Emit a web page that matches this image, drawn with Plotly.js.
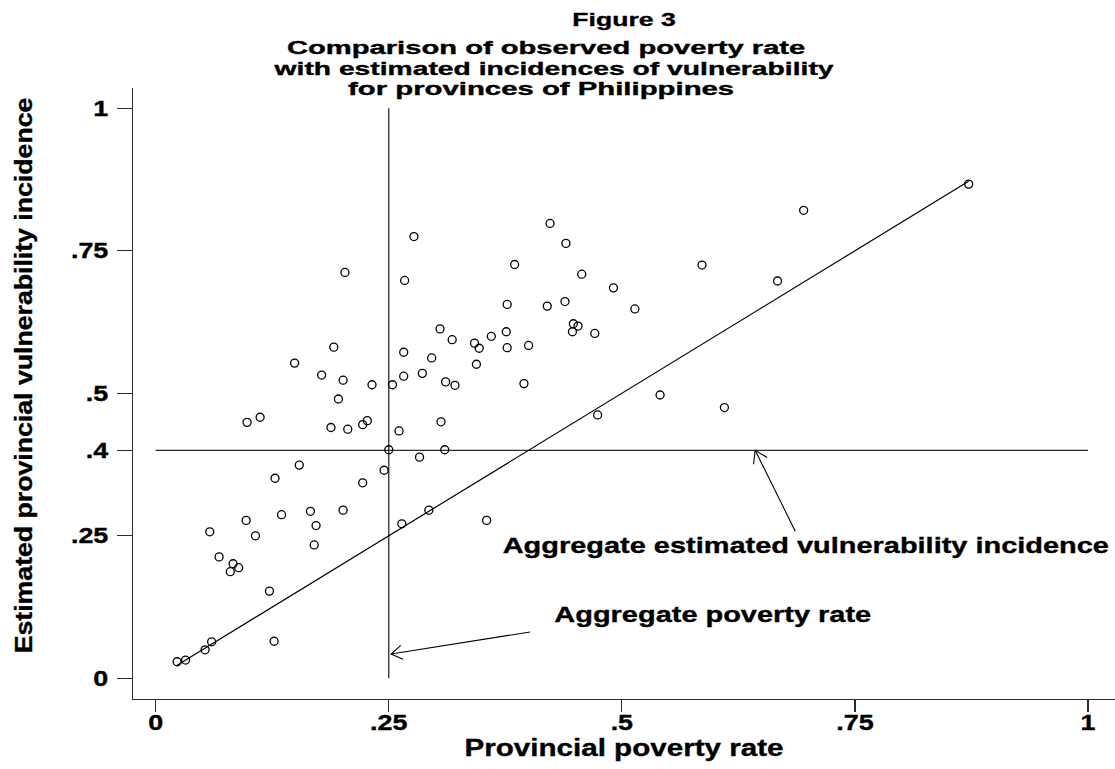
<!DOCTYPE html>
<html>
<head>
<meta charset="utf-8">
<script src="https://cdn.plot.ly/plotly-3.0.1.min.js"></script>
<style>
html,body{margin:0;padding:0;background:#fff}
/* slightly heavier strokes on all chart lettering */
#chart text{stroke:#000;stroke-width:0.35px}
</style>
</head>
<body>
<div id="chart" style="width:1115px;height:769px"></div>
<script>
// Provincial poverty rate (x) and estimated vulnerability incidence (y), one entry per province
const povertyRate = [
  0.191, 0.149, 0.178, 0.201, 0.232, 0.254, 0.196, 0.098, 0.112, 0.188,
  0.206, 0.222, 0.227, 0.261, 0.250, 0.154, 0.128, 0.222, 0.245, 0.058,
  0.097, 0.135, 0.166, 0.201, 0.107, 0.172, 0.170, 0.068, 0.083, 0.089,
  0.080, 0.122, 0.127, 0.060, 0.053, 0.032, 0.023, 0.264, 0.277, 0.203,
  0.267, 0.305, 0.318, 0.342, 0.347, 0.266, 0.296, 0.344, 0.266, 0.286,
  0.311, 0.321, 0.423, 0.440, 0.385, 0.457, 0.491, 0.377, 0.420, 0.439,
  0.448, 0.453, 0.447, 0.471, 0.360, 0.376, 0.377, 0.400, 0.395, 0.474,
  0.306, 0.310, 0.283, 0.293, 0.355, 0.872, 0.695, 0.586, 0.667, 0.514,
  0.541, 0.610
];
const vulnIncidence = [
  0.581, 0.553, 0.532, 0.523, 0.515, 0.515, 0.490, 0.449, 0.458, 0.440,
  0.437, 0.445, 0.452, 0.434, 0.401, 0.374, 0.351, 0.343, 0.365, 0.257,
  0.277, 0.287, 0.293, 0.295, 0.250, 0.268, 0.234, 0.213, 0.201, 0.194,
  0.187, 0.153, 0.065, 0.064, 0.050, 0.032, 0.029, 0.271, 0.775, 0.712,
  0.698, 0.613, 0.594, 0.588, 0.579, 0.572, 0.562, 0.551, 0.530, 0.535,
  0.520, 0.514, 0.798, 0.763, 0.726, 0.709, 0.685, 0.656, 0.653, 0.661,
  0.622, 0.618, 0.608, 0.605, 0.600, 0.608, 0.580, 0.584, 0.517, 0.462,
  0.450, 0.401, 0.388, 0.295, 0.277, 0.867, 0.821, 0.725, 0.697, 0.648,
  0.497, 0.475
];

// National aggregates
const aggregatePovertyRate = 0.25;
const aggregateVulnIncidence = 0.40;

// Axis ticks
const xTickVals = [0, 0.25, 0.5, 0.75, 1];
const xTickText = ['0', '.25', '.5', '.75', '1'];
const yTickVals = [0, 0.25, 0.4, 0.5, 0.75, 1];
const yTickText = ['0', '.25', '.4', '.5', '.75', '1'];

// Text
const figureLabel = 'Figure 3';
const titleLines = [
  'Comparison of observed poverty rate',
  'with estimated incidences of vulnerability',
  'for provinces of Philippines'
];
const xTitleText = 'Provincial poverty rate';
const yTitleText = 'Estimated provincial vulnerability incidence';
const povertyNote = 'Aggregate poverty rate';
const vulnNote = 'Aggregate estimated vulnerability incidence';

// ---- geometry ----
const W = 1115, H = 769;
const M = {l: 133, r: 0, t: 88, b: 70};
const xRange = [-0.02435, 1.02898];
const yRange = [-0.03632, 1.03561];
const plotW = W - M.l - M.r, plotH = H - M.t - M.b;
const pxPerX = plotW / (xRange[1] - xRange[0]);
const pxPerY = plotH / (yRange[1] - yRange[0]);
const pxToPaperX = px => (px - M.l) / plotW;
const pxToPaperY = py => (H - M.b - py) / plotH;

const FONT = 'Liberation Sans, Arial, Helvetica, sans-serif';
const INK = '#000';
const AXIS = '#2b2b2b';

// open "V" arrow head at the tip, computed in screen space
function arrowHead(tip, tail, len, halfDeg) {
  const dx = (tip[0] - tail[0]) * pxPerX, dy = (tip[1] - tail[1]) * pxPerY;
  const n = Math.hypot(dx, dy), ux = dx / n, uy = dy / n;
  const a = halfDeg * Math.PI / 180;
  const arm = s => {
    const c = Math.cos(s * a), si = Math.sin(s * a);
    const rx = ux * c - uy * si, ry = ux * si + uy * c;
    return [tip[0] - len * rx / pxPerX, tip[1] - len * ry / pxPerY];
  };
  const p1 = arm(1), p2 = arm(-1);
  return {type: 'path', xref: 'x', yref: 'y', layer: 'above',
    path: `M${p1[0]},${p1[1]} L${tip[0]},${tip[1]} L${p2[0]},${p2[1]}`,
    line: {color: INK, width: 1.1}};
}
function shaft(tip, tail) {
  return {type: 'line', xref: 'x', yref: 'y', layer: 'above',
    x0: tail[0], y0: tail[1], x1: tip[0], y1: tip[1],
    line: {color: INK, width: 1.1}};
}

const vulnArrow = {tail: [0.686, 0.258], tip: [0.643, aggregateVulnIncidence]};
const povArrow = {tail: [0.4015, 0.0812], tip: [aggregatePovertyRate + 0.0025, 0.0426]};

const lineMin = Math.min(...povertyRate), lineMax = Math.max(...povertyRate);

const traces = [
  {
    x: [lineMin, lineMax], y: [lineMin, lineMax],
    type: 'scatter', mode: 'lines',
    line: {color: INK, width: 1.2},
    hoverinfo: 'skip'
  },
  {
    x: povertyRate, y: vulnIncidence,
    type: 'scatter', mode: 'markers',
    marker: {symbol: 'circle-open', size: 8, color: INK, line: {width: 1.3, color: INK}},
    cliponaxis: false
  }
];

const tickFont = {family: FONT, size: 21.5, color: INK, weight: 'bold'};

// per-annotation horizontal widening factors
const annStretch = [];
const annotations = [];
function addAnn(a, s) { annotations.push(a); annStretch.push(s); }

const titleLeft = [286, 272, 347];
const titleMid = [48.2, 68.5, 88.8];
const titleWiden = [1.62, 1.57, 1.63];
titleLines.forEach((t, i) => addAnn({
  text: t, xref: 'paper', yref: 'paper',
  x: pxToPaperX(titleLeft[i]), y: pxToPaperY(titleMid[i]),
  xanchor: 'left', yanchor: 'middle', align: 'left', showarrow: false,
  borderpad: 0,
  font: {family: FONT, size: 18, color: INK, weight: 'bold'}
}, titleWiden[i]));

addAnn({
  text: vulnNote, xref: 'x', yref: 'y', x: 0.6975, y: 0.234,
  xanchor: 'center', yanchor: 'middle', showarrow: false,
  font: {family: FONT, size: 22.8, color: INK, weight: 'bold'}
}, 1.27);
addAnn({
  text: povertyNote, xref: 'x', yref: 'y', x: 0.5976, y: 0.1133,
  xanchor: 'center', yanchor: 'middle', showarrow: false,
  font: {family: FONT, size: 22.8, color: INK, weight: 'bold'}
}, 1.27);

const shapes = [
  {type: 'line', xref: 'x', yref: 'y', layer: 'below',
   x0: aggregatePovertyRate, x1: aggregatePovertyRate, y0: 0, y1: 1,
   line: {color: AXIS, width: 1.3}},
  {type: 'line', xref: 'x', yref: 'y', layer: 'below',
   x0: 0, x1: 1, y0: aggregateVulnIncidence, y1: aggregateVulnIncidence,
   line: {color: AXIS, width: 1.3}},
  shaft(vulnArrow.tip, vulnArrow.tail), arrowHead(vulnArrow.tip, vulnArrow.tail, 14, 33),
  shaft(povArrow.tip, povArrow.tail), arrowHead(povArrow.tip, povArrow.tail, 13, 33)
];

const layout = {
  width: W, height: H,
  margin: M,
  paper_bgcolor: '#fff', plot_bgcolor: '#fff',
  showlegend: false,
  font: {family: FONT, color: INK},
  title: {
    text: figureLabel, x: 0.5, xref: 'paper', xanchor: 'center',
    y: 1 - 19.5 / H, yref: 'container', yanchor: 'middle',
    font: {family: FONT, size: 19, color: INK, weight: 'bold'}
  },
  xaxis: {
    range: xRange, fixedrange: true,
    tickmode: 'array', tickvals: xTickVals, ticktext: xTickText,
    ticks: 'outside', ticklen: 12, tickwidth: 1.3, tickcolor: AXIS,
    ticklabelstandoff: -8,
    tickfont: tickFont,
    showline: true, linecolor: AXIS, linewidth: 1.4,
    showgrid: false, zeroline: false,
    title: {text: xTitleText, standoff: 3,
            font: {family: FONT, size: 23.5, color: INK, weight: 'bold'}}
  },
  yaxis: {
    range: yRange, fixedrange: true,
    tickmode: 'array', tickvals: yTickVals, ticktext: yTickText,
    ticks: 'outside', ticklen: 15, tickwidth: 1.3, tickcolor: AXIS,
    ticklabelstandoff: 4,
    tickfont: tickFont,
    showline: true, linecolor: AXIS, linewidth: 1.4,
    showgrid: false, zeroline: false,
    title: {text: yTitleText, standoff: 39,
            font: {family: FONT, size: 23, color: INK, weight: 'bold'}}
  },
  shapes: shapes,
  annotations: annotations
};

const gd = document.getElementById('chart');

// widen text horizontally about its anchor point (dx: extra shift along the text line)
function widen(el, s, dx) {
  const cur = el.getAttribute('transform') || '';
  if (el.dataset.wide && el.dataset.wide === cur) return;
  const bb = el.getBBox();
  const anchor = el.getAttribute('text-anchor') || getComputedStyle(el).textAnchor || 'start';
  const a = anchor === 'middle' ? bb.x + bb.width / 2 : anchor === 'end' ? bb.x + bb.width : bb.x;
  const next = `${cur} translate(${a + (dx || 0)} 0) scale(${s} 1) translate(${-a} 0)`.trim();
  el.setAttribute('transform', next);
  el.dataset.wide = next;
}
function widenAll() {
  gd.querySelectorAll('.xtick text, .ytick text').forEach(el => widen(el, 1.25));
  gd.querySelectorAll('text.xtitle').forEach(el => widen(el, 1.26));
  gd.querySelectorAll('text.ytitle').forEach(el => widen(el, 1.16, 18));
  gd.querySelectorAll('text.gtitle').forEach(el => widen(el, 1.4));
  gd.querySelectorAll('.annotation').forEach(g => {
    const i = +g.getAttribute('data-index');
    const t = g.querySelector('text.annotation-text');
    if (t && annStretch[i]) widen(t, annStretch[i]);
  });
}

Plotly.newPlot(gd, traces, layout, {staticPlot: true, displayModeBar: false}).then(() => {
  widenAll();
  gd.on('plotly_afterplot', widenAll);
});
</script>
</body>
</html>
